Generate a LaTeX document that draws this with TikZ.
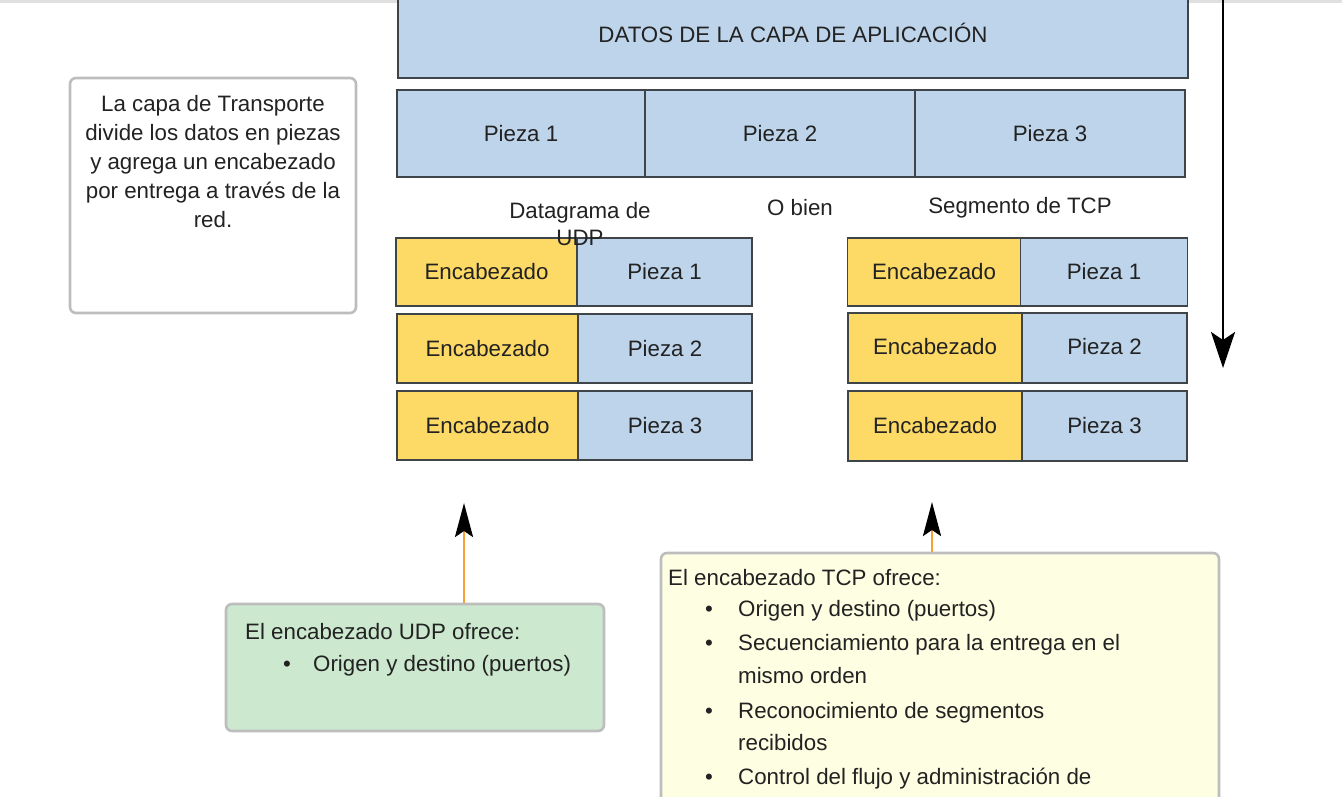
\documentclass[tikz,border=0pt]{standalone}
\usepackage{fontspec}
\setmainfont{Liberation Sans}
\usetikzlibrary{arrows.meta}
\definecolor{cellblue}{HTML}{BDD4EA}
\definecolor{hdryellow}{HTML}{FDD966}
\definecolor{edgecol}{HTML}{3F4448}
\definecolor{notegray}{HTML}{BDBDBD}
\definecolor{udpgreen}{HTML}{CCE8CE}
\definecolor{tcpyellow}{HTML}{FEFEE2}
\definecolor{arroworange}{HTML}{F4A236}
\definecolor{txtcol}{HTML}{222222}
\begin{document}
\begin{tikzpicture}[x=1pt,y=-1pt,
  every node/.style={text=txtcol, font=\fontsize{22.3}{26}\selectfont},
  bluecell/.style={draw=edgecol, line width=1.1pt, fill=cellblue, inner sep=0pt},
  hdrcell/.style={draw=edgecol, line width=1.1pt, fill=hdryellow, inner sep=0pt},
  notebox/.style={draw=notegray, line width=2.6pt, rounded corners=6pt, inner sep=0pt},
  labeltext/.style={inner sep=0pt},
  linetext/.style={inner sep=0pt, anchor=base west},
  pointer/.style={draw=arroworange, line width=2.8pt, -{Stealth[black, length=34pt, width=18pt, inset=6pt]}},
  flow/.style={draw=black, line width=2.6pt, -{Stealth[length=36pt, width=24pt, inset=8pt]}}
]
\useasboundingbox (0,0) rectangle (1342,796);
\clip (0,0) rectangle (1342,796);
\fill[black!12] (0,0) rectangle (1342,3);

% application data
\node[bluecell, minimum width=790pt, minimum height=90pt] (app) at (793,33) {DATOS DE LA CAPA DE APLICACIÓN};

% pieces
\node[bluecell, minimum width=248pt, minimum height=87pt] (p1) at (521,133.5) {Pieza 1};
\node[bluecell, minimum width=270pt, minimum height=87pt] (p2) at (780,133.5) {Pieza 2};
\node[bluecell, minimum width=270pt, minimum height=87pt] (p3) at (1050,133.5) {Pieza 3};

% UDP datagrams
\node[hdrcell, minimum width=181pt, minimum height=68pt] (uh1) at (486.5,272) {Encabezado};
\node[bluecell, minimum width=175pt, minimum height=68pt] (up1) at (664.5,272) {Pieza 1};
\node[hdrcell, minimum width=181pt, minimum height=69pt] (uh2) at (487.5,348.5) {Encabezado};
\node[bluecell, minimum width=174pt, minimum height=69pt] (up2) at (665,348.5) {Pieza 2};
\node[hdrcell, minimum width=181pt, minimum height=69pt] (uh3) at (487.5,425.5) {Encabezado};
\node[bluecell, minimum width=174pt, minimum height=69pt] (up3) at (665,425.5) {Pieza 3};

% TCP segments
\node[hdrcell, minimum width=173pt, minimum height=68pt] (th1) at (934,272) {Encabezado};
\node[bluecell, minimum width=167pt, minimum height=68pt] (tp1) at (1104,272) {Pieza 1};
\node[hdrcell, minimum width=174pt, minimum height=70pt] (th2) at (935,348) {\raisebox{4pt}{Encabezado}};
\node[bluecell, minimum width=165pt, minimum height=70pt] (tp2) at (1104.5,348) {\raisebox{4pt}{Pieza 2}};
\node[hdrcell, minimum width=174pt, minimum height=70pt] (th3) at (935,426) {Encabezado};
\node[bluecell, minimum width=165pt, minimum height=70pt] (tp3) at (1104.5,426) {Pieza 3};

% labels
\node[labeltext, align=center, font=\fontsize{22.3}{27}\selectfont] (udplabel) at (580,224) {Datagrama de\\UDP};
\node[labeltext] (obien) at (800,208) {O bien};
\node[labeltext] (tcplabel) at (1020,208) {Segmento de TCP};

% left note
\node[notebox, fill=white, minimum width=286pt, minimum height=235pt] (note) at (213,195.5) {};
\node[labeltext, align=center, anchor=north, font=\fontsize{22.3}{29}\selectfont] (notetext) at (213,95) {La capa de Transporte\\divide los datos en piezas\\y agrega un encabezado\\por entrega a través de la\\red.};

% flow arrow at right
\coordinate (flowtop) at (1223,-4);
\coordinate (flowend) at (1223,368);
\draw[flow] (flowtop) -- (flowend);

% UDP note
\node[notebox, fill=udpgreen, minimum width=378pt, minimum height=127pt] (udpnote) at (415,667.5) {};
\node[linetext] (u0) at (245,639) {El encabezado UDP ofrece:};
\node[linetext] (ub1) at (283,671) {•};
\node[linetext] (u1) at (313,671) {Origen y destino (puertos)};
\coordinate (udptip) at (464,503);
\draw[pointer] (udpnote.north -| udptip) -- (udptip);

% TCP note
\node[notebox, fill=tcpyellow, minimum width=558pt, minimum height=260pt] (tcpnote) at (940,683) {};
\node[linetext] (t0) at (668,585) {El encabezado TCP ofrece:};
\node[linetext] (tb1) at (705,616) {•};
\node[linetext] (t1) at (738,616) {Origen y destino (puertos)};
\node[linetext] (tb2) at (705,650) {•};
\node[linetext] (t2) at (738,650) {Secuenciamiento para la entrega en el};
\node[linetext] (t2b) at (738,683) {mismo orden};
\node[linetext] (tb3) at (705,718) {•};
\node[linetext] (t3) at (738,718) {Reconocimiento de segmentos};
\node[linetext] (t3b) at (738,750) {recibidos};
\node[linetext] (tb4) at (705,784) {•};
\node[linetext] (t4) at (738,784) {Control del flujo y administración de};
\coordinate (tcptip) at (932,502);
\draw[pointer] (tcpnote.north -| tcptip) -- (tcptip);
\end{tikzpicture}
\end{document}
